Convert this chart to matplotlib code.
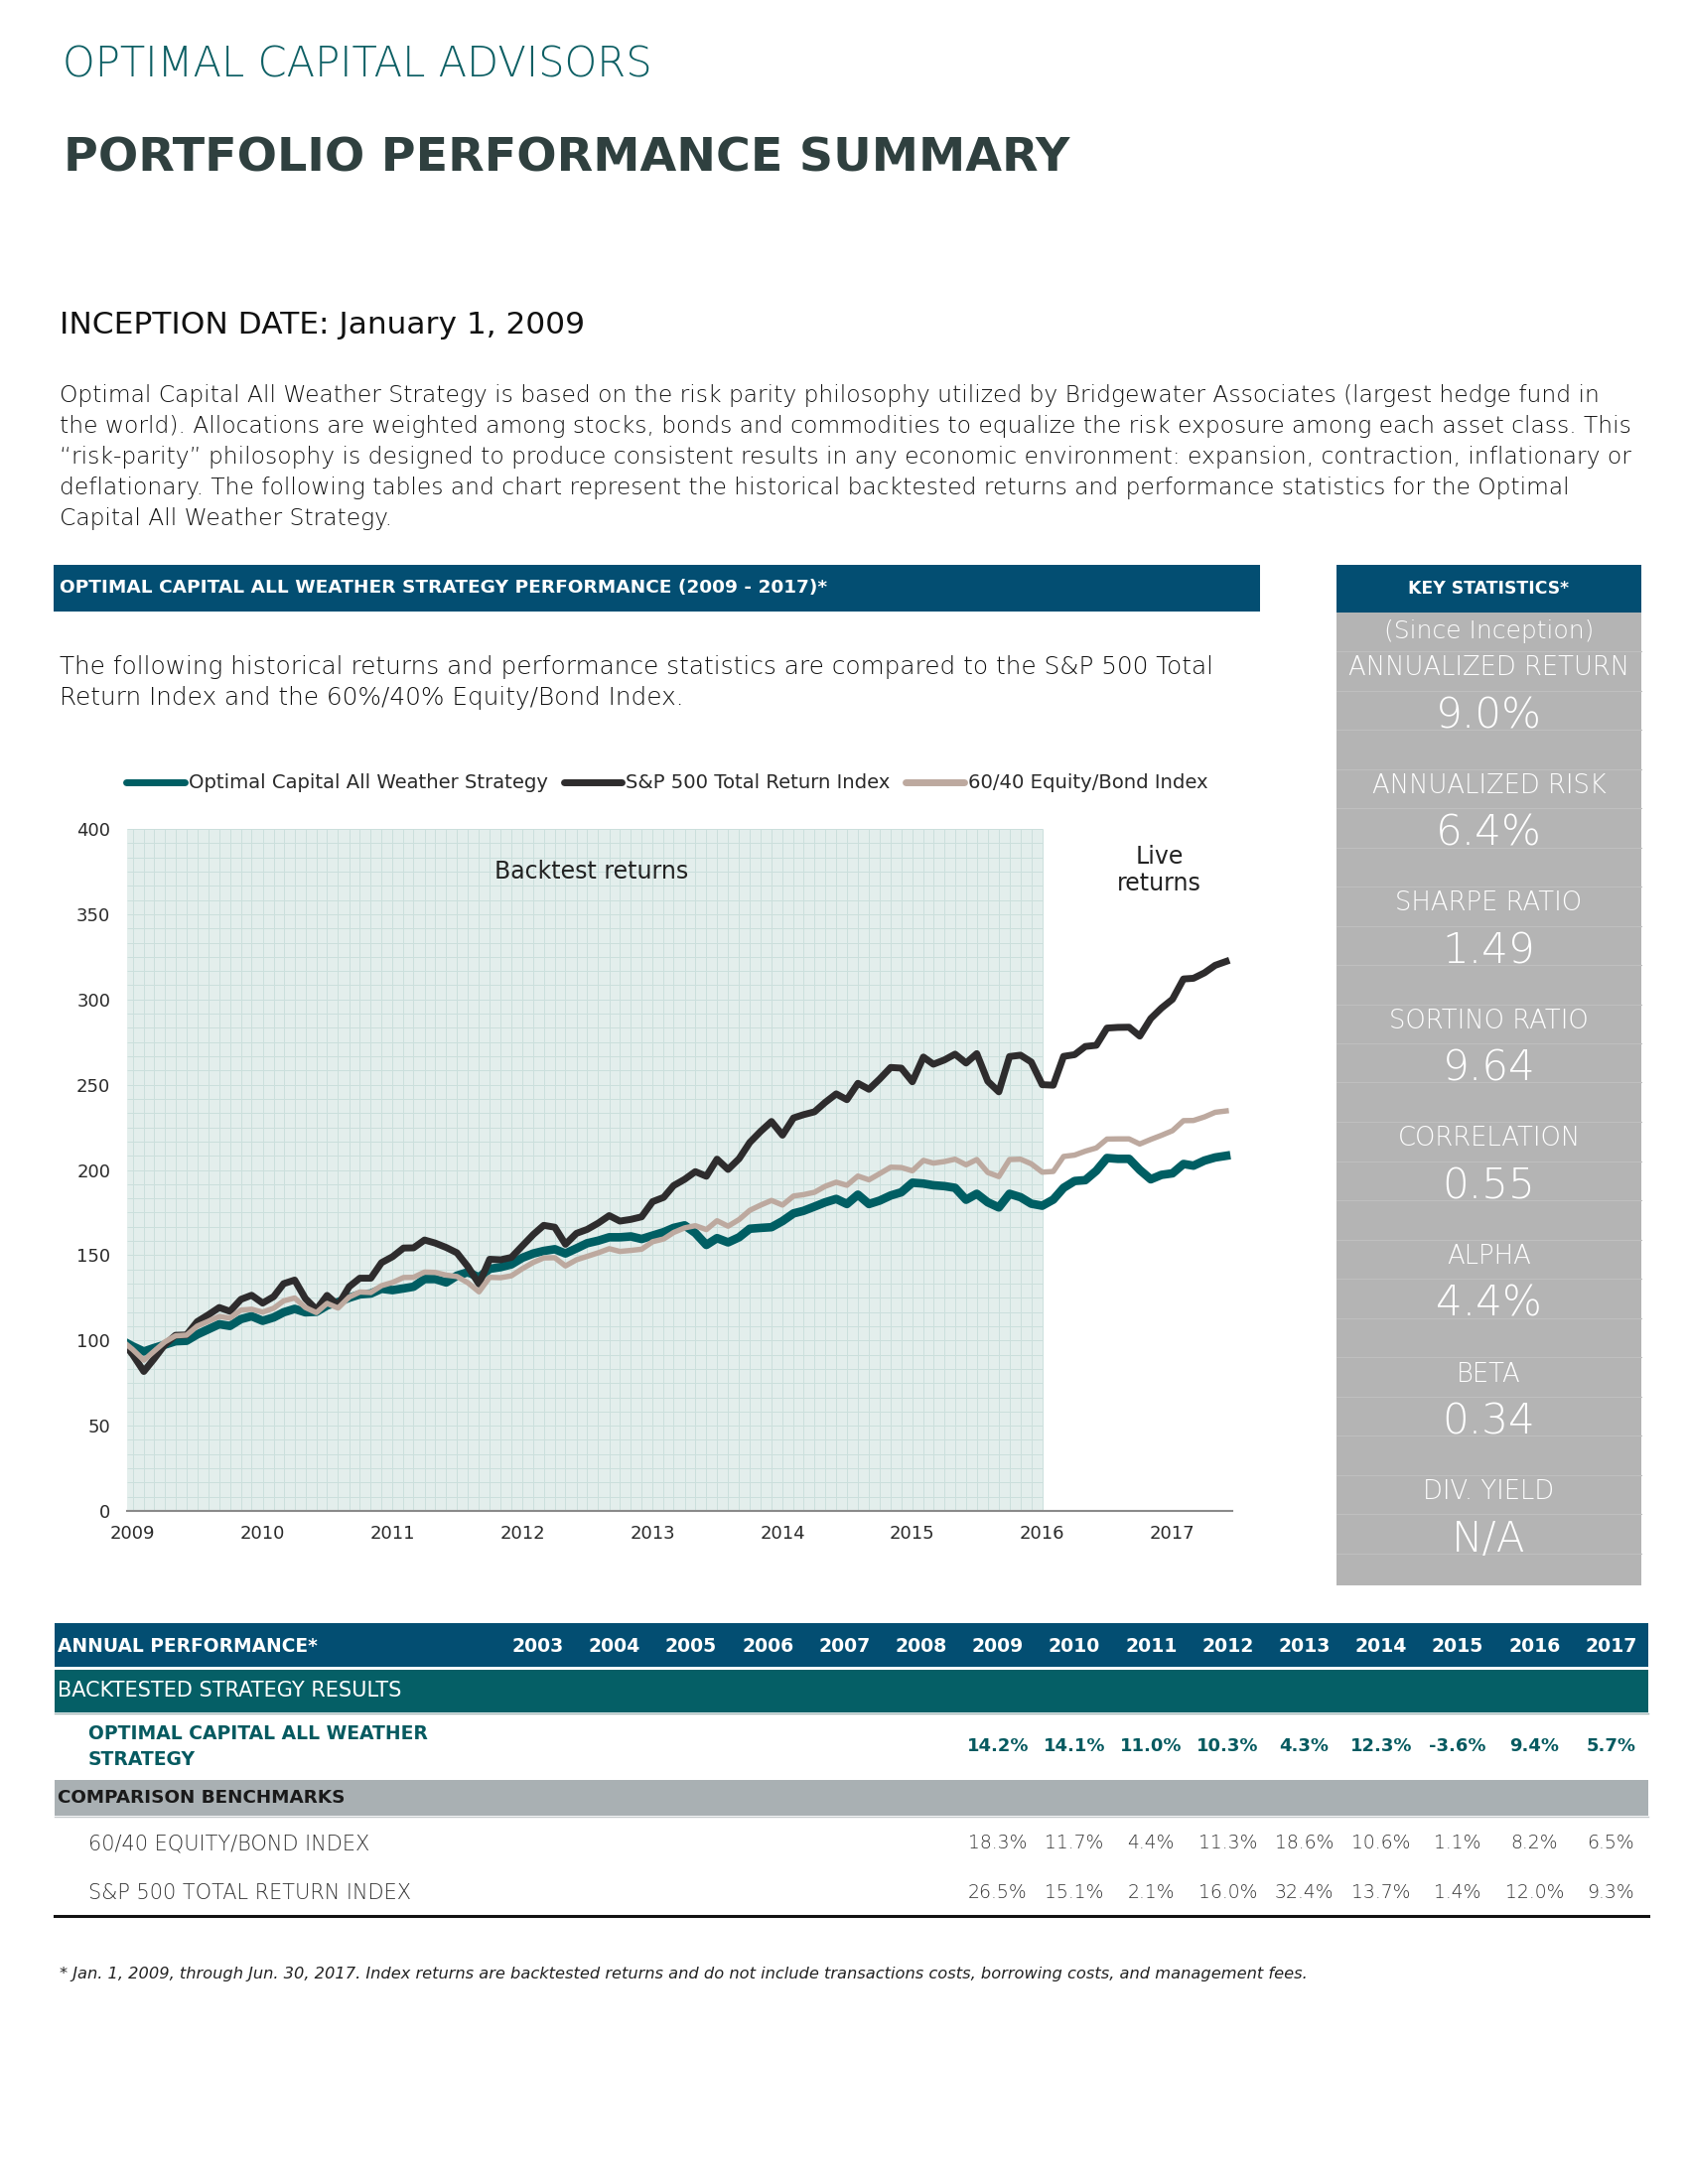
import numpy as np
import pandas as pd
import matplotlib
matplotlib.use("Agg")
import matplotlib.pyplot as plt
import matplotlib.dates as mdates
from matplotlib.patches import Rectangle
from matplotlib.lines import Line2D

#------------------ Datos
# indice mensual (dic 2008 = 100) hasta jun 2017
dates = pd.date_range("2008-12-01", "2017-06-01", freq="MS")

strategy = [100.0,
            96.5, 93.5, 95.5, 97.5, 99.5, 99.8, 103.5, 106.5, 109.5, 108.5, 112.5, 114.2,
            111.5, 113.5, 116.5, 118.5, 116.5, 116.8, 120.5, 122.5, 125.0, 127.0, 127.5, 130.3,
            129.5, 130.5, 131.5, 136.0, 136.0, 134.0, 138.0, 140.0, 137.0, 142.0, 143.0, 144.6,
            148.5, 151.0, 152.5, 153.5, 151.0, 154.0, 157.0, 158.5, 160.5, 160.5, 161.0, 159.5,
            161.5, 163.5, 166.0, 167.5, 163.0, 156.0, 160.0, 157.5, 160.5, 165.5, 166.0, 166.4,
            170.0, 174.5, 176.0, 178.5, 181.0, 183.0, 180.0, 185.5, 180.0, 182.0, 185.0, 186.9,
            192.5, 192.0, 191.0, 190.5, 189.5, 182.5, 186.0, 181.0, 178.0, 186.0, 184.0, 180.2,
            179.0, 182.6, 189.5, 193.5, 194.0, 199.5, 207.0, 206.5, 206.5, 200.0, 194.5, 197.1,
            198.0, 203.5, 202.5, 205.5, 207.3, 208.3]

sp500 = [100.0,
         91.6, 81.8, 89.0, 97.5, 103.0, 103.2, 111.0, 115.0, 119.3, 117.1, 124.1, 126.5,
         121.9, 125.7, 133.3, 135.4, 124.6, 118.1, 126.4, 120.7, 131.5, 136.5, 136.5, 145.6,
         149.1, 154.2, 154.3, 158.9, 157.1, 154.5, 151.4, 143.2, 133.1, 147.6, 147.3, 148.7,
         155.5, 162.2, 167.5, 166.4, 156.4, 162.8, 165.1, 168.8, 173.2, 170.0, 171.0, 172.5,
         181.4, 183.9, 190.8, 194.5, 199.0, 196.3, 206.3, 200.3, 206.6, 216.1, 222.7, 228.4,
         220.4, 230.5, 232.4, 234.1, 239.6, 244.6, 241.2, 250.8, 247.3, 253.3, 260.1, 259.7,
         251.7, 266.2, 262.0, 264.5, 267.9, 262.7, 268.2, 252.0, 245.8, 266.5, 267.3, 263.3,
         250.0, 249.7, 266.6, 267.6, 272.4, 273.1, 283.2, 283.6, 283.7, 278.5, 288.8, 294.9,
         300.1, 312.0, 312.4, 315.6, 320.0, 322.3]

balanced = [100.0,
            94.6, 88.4, 93.5, 99.1, 102.7, 103.1, 108.4, 111.2, 114.1, 113.1, 117.8, 118.3,
            116.6, 118.9, 123.2, 124.9, 119.3, 116.3, 121.7, 119.0, 125.4, 128.4, 128.1, 132.1,
            134.0, 136.9, 137.0, 140.1, 139.9, 138.3, 137.5, 133.8, 128.5, 137.0, 136.8, 137.9,
            142.1, 145.8, 148.4, 148.5, 143.7, 147.3, 149.3, 151.4, 153.8, 152.2, 152.8, 153.5,
            157.9, 159.5, 163.3, 166.0, 167.3, 165.0, 170.2, 167.0, 170.9, 176.3, 179.4, 182.1,
            179.4, 184.7, 185.5, 186.9, 190.4, 192.8, 191.0, 196.4, 194.2, 197.8, 201.6, 201.4,
            199.5, 205.6, 204.0, 204.9, 206.3, 203.0, 206.1, 198.5, 196.1, 206.1, 206.3, 203.6,
            198.7, 199.1, 207.9, 208.7, 211.0, 212.9, 218.1, 218.2, 218.2, 215.2, 217.9, 220.3,
            223.0, 228.9, 229.0, 231.1, 233.8, 234.6]

series_names = ["Optimal Capital All Weather Strategy",
                "S&P 500 Total Return Index",
                "60/40 Equity/Bond Index"]

stat_labels = ["ANNUALIZED RETURN", "ANNUALIZED RISK", "SHARPE RATIO", "SORTINO RATIO",
               "CORRELATION", "ALPHA", "BETA", "DIV. YIELD"]
stat_values = ["9.0%", "6.4%", "1.49", "9.64", "0.55", "4.4%", "0.34", "N/A"]

table_years = ["2003", "2004", "2005", "2006", "2007", "2008", "2009", "2010",
               "2011", "2012", "2013", "2014", "2015", "2016", "2017"]
ret_strategy = ["", "", "", "", "", "", "14.2%", "14.1%", "11.0%", "10.3%",
                "4.3%", "12.3%", "-3.6%", "9.4%", "5.7%"]
ret_6040 = ["", "", "", "", "", "", "18.3%", "11.7%", "4.4%", "11.3%",
            "18.6%", "10.6%", "1.1%", "8.2%", "6.5%"]
ret_sp500 = ["", "", "", "", "", "", "26.5%", "15.1%", "2.1%", "16.0%",
             "32.4%", "13.7%", "1.4%", "12.0%", "9.3%"]

paragraph = [
    "Optimal Capital All Weather Strategy is based on the risk parity philosophy utilized by Bridgewater Associates (largest hedge fund in",
    "the world). Allocations are weighted among stocks, bonds and commodities to equalize the risk exposure among each asset class. This",
    "\u201crisk-parity\u201d philosophy is designed to produce consistent results in any economic environment: expansion, contraction, inflationary or",
    "deflationary. The following tables and chart represent the historical backtested returns and performance statistics for the Optimal",
    "Capital All Weather Strategy.",
]

#------------------ Estilo
plt.rcParams['font.family'] = ['DejaVu Sans']

BLUE  = '#034e72'
TEAL  = '#005e63'
DARK  = '#2e2c2d'
TAN   = '#bda99f'
GRAYP = '#b4b4b4'
LIGHT = 200

W, H = 1700, 2200
fig = plt.figure(figsize=(17, 22), dpi=100)


def fx(x):
    return x / W


def fy(y):
    return 1 - y / H


def box(x0, y0, x1, y1, color):
    fig.add_artist(Rectangle((fx(x0), fy(y1)), (x1 - x0) / W, (y1 - y0) / H,
                             transform=fig.transFigure, facecolor=color,
                             edgecolor='none', zorder=0))


def txt(x, y, s, **kw):
    fig.text(fx(x), fy(y), s, va='center', **kw)


def hline(x0, x1, y, color, lw):
    fig.add_artist(Line2D([fx(x0), fx(x1)], [fy(y), fy(y)], color=color, lw=lw,
                          transform=fig.transFigure))


#------------------ Encabezado
txt(63, 65, "OPTIMAL CAPITAL ADVISORS", fontsize=30, color='#0d5f64', weight=LIGHT)
txt(64, 160, "PORTFOLIO PERFORMANCE SUMMARY", fontsize=34.2, color='#2f403f', weight='bold')
txt(60, 328, "INCEPTION DATE: January 1, 2009", fontsize=22.5, color='#111111')
for k, line in enumerate(paragraph):
    txt(60, 398 + k * 31.2, line, fontsize=16.8, color='#111111', weight=LIGHT)

box(54, 569, 1269, 616, BLUE)
txt(60, 592, "OPTIMAL CAPITAL ALL WEATHER STRATEGY PERFORMANCE (2009 - 2017)*",
    fontsize=13.3, color='white', weight='bold')
txt(60, 672, "The following historical returns and performance statistics are compared to the S&P 500 Total",
    fontsize=17.8, color='#111111', weight=LIGHT)
txt(60, 703, "Return Index and the 60%/40% Equity/Bond Index.",
    fontsize=17.8, color='#111111', weight=LIGHT)

#------------------ Grafico
ax = fig.add_axes([fx(128), fy(1522), (1241 - 128) / W, (1522 - 835) / H])
x_left = pd.Timestamp('2008-12-16')
x_right = pd.Timestamp('2017-06-18')
live_start = pd.Timestamp('2016-01-01')

ax.axvspan(x_left, live_start, color='#e3eeec', zorder=0, lw=0)
ax.vlines(pd.date_range('2009-01-01', '2016-01-01', freq='MS'), 0, 400,
          color='#cbdfdc', lw=0.7, zorder=1)
ax.hlines(np.linspace(0, 400, 49), x_left, live_start, color='#cbdfdc', lw=0.7, zorder=1)

ax.plot(dates, strategy, color=TEAL, lw=6.2, solid_joinstyle='round', zorder=3)
ax.plot(dates, sp500, color=DARK, lw=5.0, solid_joinstyle='round', zorder=4)
ax.plot(dates, balanced, color=TAN, lw=3.9, solid_joinstyle='round', zorder=5)

ax.set_xlim(x_left, x_right)
ax.set_ylim(0, 400)
ax.set_yticks(range(0, 401, 50))
ax.xaxis.set_major_locator(mdates.YearLocator())
ax.xaxis.set_major_formatter(mdates.DateFormatter('%Y'))
ax.tick_params(length=0, labelsize=13, colors='#2a2a2a')
ax.tick_params(axis='y', pad=12)
ax.tick_params(axis='x', pad=10)
for s in ['top', 'right', 'left']:
    ax.spines[s].set_visible(False)
ax.spines['bottom'].set_color('#8a8a8a')
ax.spines['bottom'].set_linewidth(1.5)
ax.patch.set_visible(False)

ax.text(pd.Timestamp('2012-07-13'), 375, "Backtest returns", ha='center', va='center',
        fontsize=17, color='#222222')
ax.text(pd.Timestamp('2016-11-25'), 376, "Live\nreturns", ha='center', va='center',
        fontsize=17, color='#222222', linespacing=1.15)

handles = [Line2D([], [], color=c, lw=5, solid_capstyle='round') for c in (TEAL, DARK, TAN)]
fig.legend(handles, series_names, loc='center', bbox_to_anchor=(fx(672), fy(789)),
           ncol=3, frameon=False, handlelength=3.0, handletextpad=0.2,
           columnspacing=0.8, labelcolor='#2a2a2a', prop={'size': 14.1})

#------------------ Estadisticas clave
box(1346, 569, 1653, 617, BLUE)
box(1346, 617, 1653, 1597, GRAYP)
for y in np.arange(656, 1597, 39.5):
    hline(1346, 1653, y, '#bfbfbf', 0.8)
txt(1499.5, 593, "KEY STATISTICS*", fontsize=12.4, color='white', weight='bold', ha='center')
txt(1499.5, 636, "(Since Inception)", fontsize=18, color='white', weight=LIGHT, ha='center')
for k, (lab, val) in enumerate(zip(stat_labels, stat_values)):
    txt(1499.5, 673 + k * 118.5, lab, fontsize=18.6, color='white', weight=LIGHT, ha='center')
    txt(1499.5, 721 + k * 118.5, val, fontsize=30.3, color='white', weight=LIGHT, ha='center')

#------------------ Tabla de rendimiento anual
col_x = [541.6 + 77.2 * k for k in range(len(table_years))]

box(54.5, 1635, 1660, 1679, BLUE)
box(54.5, 1682, 1660, 1725, '#055f66')
box(54.5, 1793, 1660, 1829, '#a9b0b3')
hline(54.5, 1660, 1726, '#9fb3b4', 1.0)
hline(54.5, 1660, 1830, '#c5cacc', 1.0)
hline(54.5, 1660, 1930, '#111111', 2.2)

txt(58, 1658, "ANNUAL PERFORMANCE*", fontsize=13.4, color='white', weight='bold')
for x, yr in zip(col_x, table_years):
    txt(x, 1658, yr, fontsize=13.6, color='white', weight='bold', ha='center')

txt(58, 1703, "BACKTESTED STRATEGY RESULTS", fontsize=15, color='white')
txt(89, 1747, "OPTIMAL CAPITAL ALL WEATHER", fontsize=13.5, color='#065a60', weight='bold')
txt(89, 1772, "STRATEGY", fontsize=13.5, color='#065a60', weight='bold')
for x, v in zip(col_x, ret_strategy):
    txt(x, 1759, v, fontsize=13, color='#065a60', weight='bold', ha='center')

txt(58, 1811, "COMPARISON BENCHMARKS", fontsize=13.2, color='#1a1a1a', weight='bold')
txt(89, 1857, "60/40 EQUITY/BOND INDEX", fontsize=15, color='#333333', weight=LIGHT)
txt(89, 1907, "S&P 500 TOTAL RETURN INDEX", fontsize=15, color='#333333', weight=LIGHT)
for x, v1, v2 in zip(col_x, ret_6040, ret_sp500):
    txt(x, 1857, v1, fontsize=13.5, color='#333333', weight=LIGHT, ha='center')
    txt(x, 1907, v2, fontsize=13.5, color='#333333', weight=LIGHT, ha='center')

txt(60, 1989, "* Jan. 1, 2009, through Jun. 30, 2017. Index returns are backtested returns and do not "
    "include transactions costs, borrowing costs, and management fees.",
    fontsize=11.7, color='#222222', style='italic', weight=LIGHT)

fig.savefig("out.png", dpi=100)
